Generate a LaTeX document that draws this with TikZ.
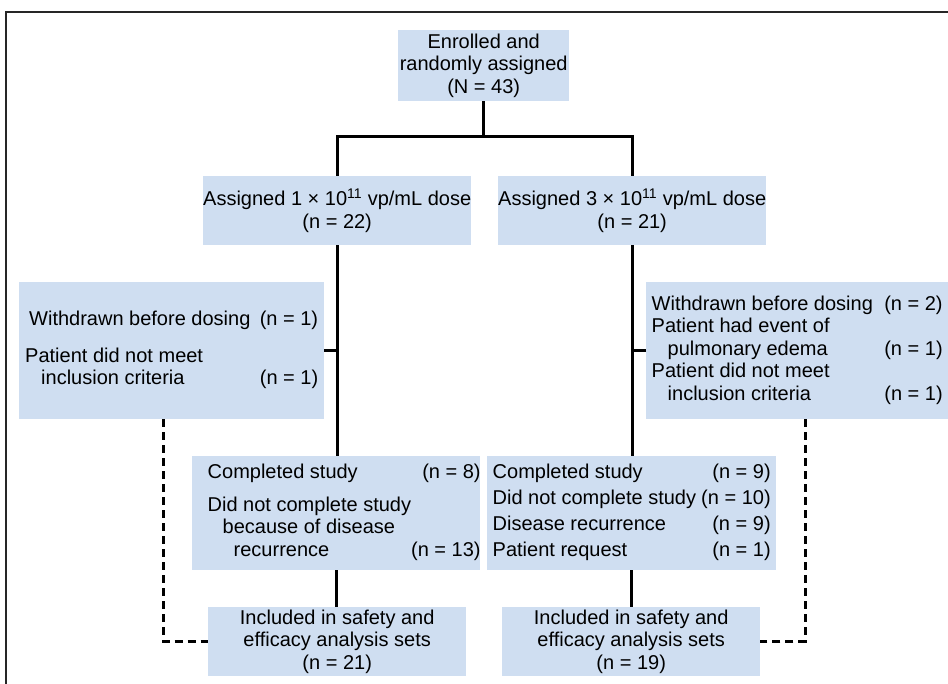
\documentclass[tikz,border=0pt]{standalone}
\usepackage{fontspec}
\setmainfont{Liberation Sans}
\definecolor{boxblue}{RGB}{207,222,241}
\tikzset{
  box/.style={fill=boxblue, inner sep=0pt, align=center, anchor=north west},
  link/.style={line width=3pt, black},
  branch/.style={line width=2.6pt, black},
  droplink/.style={line width=3pt, black, dash pattern=on 8pt off 5pt},
  frame/.style={line width=1.8pt, black!85}
}
\newcommand{\rowsA}[2]{\begin{tabular*}{#1}{@{}l@{\extracolsep{\fill}}r@{}}#2\end{tabular*}}
\begin{document}
\begin{tikzpicture}[x=1pt,y=-1pt]
\fontsize{20}{22.5}\selectfont
\useasboundingbox (0,0) rectangle (948,684);
\draw[frame] (6,684) -- (6,12) -- (948,12);

\node[box, minimum width=171pt, minimum height=71pt] (enr) at (398,30)
  {Enrolled and\\randomly assigned\\(N = 43)};
\node[box, minimum width=266pt, minimum height=69pt] (a1) at (203,176)
  {Assigned 1 × 10\textsuperscript{11} vp/mL dose\\(n = 22)};
\node[box, minimum width=267pt, minimum height=69pt] (a3) at (498,176)
  {Assigned 3 × 10\textsuperscript{11} vp/mL dose\\(n = 21)};

\node[box, minimum width=305pt, minimum height=137pt] (w1) at (19,282)
  {\rowsA{293pt}{\hspace*{4pt}Withdrawn before dosing & (n = 1)\\[14pt]
   Patient did not meet & \\
   \hspace*{16pt}inclusion criteria & (n = 1)}};
\node[box, minimum width=302pt, minimum height=137pt] (w3) at (646,282)
  {\rowsA{291pt}{Withdrawn before dosing & (n = 2)\\
   Patient had event of & \\
   \hspace*{16pt}pulmonary edema & (n = 1)\\
   Patient did not meet & \\
   \hspace*{16pt}inclusion criteria & (n = 1)}};

\node[box, minimum width=288pt, minimum height=114pt] (c1) at (192,456)
  {\rowsA{257pt}{Completed study & (n = 8)\\[10pt]
   Did not complete study & \\
   \hspace*{15pt}because of disease & \\
   \hspace*{26pt}recurrence & (n = 13)}};
\node[box, minimum width=289pt, minimum height=114pt] (c3) at (487,456)
  {\rowsA{278pt}{Completed study & (n = 9)\\[3.5pt]
   Did not complete study & (n = 10)\\[3.5pt]
   Disease recurrence & (n = 9)\\[3.5pt]
   Patient request & (n = 1)}};

\node[box, minimum width=258pt, minimum height=69pt] (i1) at (208,607)
  {Included in safety and\\efficacy analysis sets\\(n = 21)};
\node[box, minimum width=258pt, minimum height=69pt] (i3) at (502,607)
  {Included in safety and\\efficacy analysis sets\\(n = 19)};

\coordinate (split) at (483,137);
\coordinate (dl) at (163,641);
\coordinate (dr) at (805,641);

\draw[link] (enr.south) -- (enr.south |- split);
\draw[link] (a1.north) -- (a1.north |- split) -- (a3.north |- split) -- (a3.north);
\draw[link] (a1.south) -- (a1.south |- c1.north);
\draw[branch] (w1.east) -- (w1.east -| a1.south);
\draw[link] (c1.south) -- (c1.south |- i1.north);
\draw[link] (a3.south) -- (a3.south |- c3.north);
\draw[branch] (w3.west) -- (w3.west -| a3.south);
\draw[link] (c3.south) -- (c3.south |- i3.north);
\draw[droplink] (w1.south -| dl) |- (i1.west);
\draw[droplink] (w3.south -| dr) |- (i3.east);
\end{tikzpicture}
\end{document}
